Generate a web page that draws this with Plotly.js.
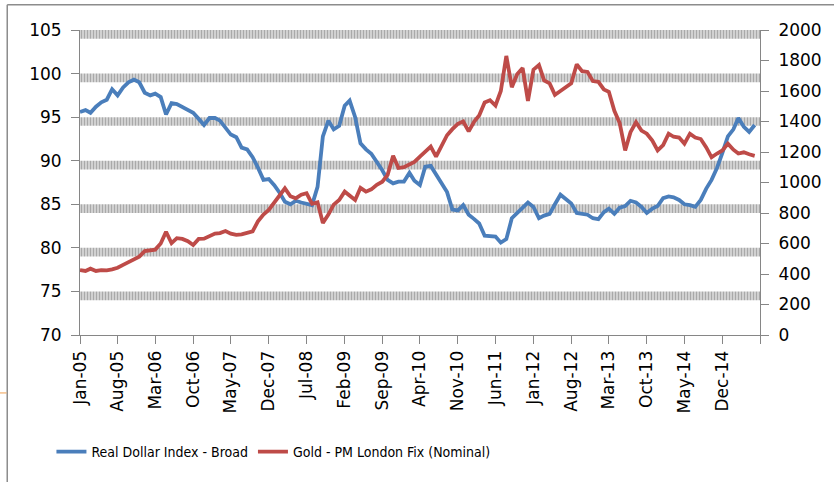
<!DOCTYPE html>
<html>
<head>
<meta charset="utf-8">
<script src="https://cdn.plot.ly/plotly-3.0.1.min.js"></script>
<style>html,body{margin:0;padding:0;background:#fff;}#chart{width:834px;height:482px;}</style>
</head>
<body>
<div id="chart"></div>
<script>
// Monthly series, Jan-05 .. Jun-15
const startMonth = '2005-01';
const dollarIndex = [
  95.6, 95.8, 95.5, 96.2, 96.7, 97.0, 98.2, 97.5, 98.4, 99.0, 99.3, 99.0,
  97.8, 97.5, 97.7, 97.3, 95.3, 96.6, 96.5, 96.2, 95.9, 95.5, 94.8, 94.1,
  94.9, 94.9, 94.6, 93.7, 93.0, 92.7, 91.5, 91.3, 90.4, 89.2, 87.8, 87.9,
  87.2, 86.3, 85.3, 85.0, 85.4, 85.2, 85.0, 84.9, 87.0, 92.8, 94.6, 93.6,
  94.0, 96.3, 96.9, 95.0, 92.0, 91.3, 90.8, 89.9, 88.9, 87.8, 87.4, 87.6,
  87.6, 88.6, 87.7, 87.2, 89.3, 89.4, 88.4, 87.5, 86.4, 84.4, 84.3, 84.9,
  83.8, 83.3, 82.8, 81.4, 81.3, 81.3, 80.6, 81.0, 83.4, 84.0, 84.6, 85.2,
  84.7, 83.4, 83.7, 83.9, 85.0, 86.1, 85.6, 85.1, 84.0, 83.9, 83.8, 83.4,
  83.3, 84.1, 84.5, 83.9, 84.6, 84.8, 85.4, 85.2, 84.7, 84.0, 84.5, 84.8,
  85.7, 85.9, 85.8, 85.5, 85.0, 84.9, 84.7, 85.5, 86.8, 87.8, 89.2, 90.9,
  92.8, 93.6, 94.9, 93.9, 93.3, 94.1
];
const goldFix = [
  426, 420, 435, 420, 425, 424, 430, 441, 460, 478, 495, 514,
  550, 555, 560, 600, 677, 602, 635, 630, 615, 590, 630, 632,
  650, 665, 668, 682, 665, 657, 660, 670, 680, 745, 790, 820,
  870, 910, 962, 910, 896, 920, 930, 860, 870, 735, 790, 855,
  885, 940, 915, 885, 965, 940, 955, 985, 1005, 1050, 1175, 1095,
  1100, 1120, 1135, 1170, 1200, 1235, 1170, 1245, 1310, 1350, 1385, 1400,
  1335, 1400, 1440, 1525, 1540, 1505, 1600, 1830, 1625, 1710, 1750, 1535,
  1740, 1770, 1670, 1650, 1575, 1600, 1625, 1650, 1775, 1730, 1725, 1665,
  1660, 1610, 1595, 1470, 1390, 1210, 1330, 1395, 1340, 1320, 1275, 1210,
  1245, 1320, 1300, 1295, 1255, 1320, 1295, 1285, 1230, 1165, 1190, 1210,
  1255, 1215, 1190, 1198, 1185, 1175
];
const tickDates = ['2005-01-01','2005-08-01','2006-03-01','2006-10-01','2007-05-01','2007-12-01',
  '2008-07-01','2009-02-01','2009-09-01','2010-04-01','2010-11-01','2011-06-01','2012-01-01',
  '2012-08-01','2013-03-01','2013-10-01','2014-05-01','2014-12-01','2015-07-01'];
const tickLabels = ['Jan-05','Aug-05','Mar-06','Oct-06','May-07','Dec-07','Jul-08','Feb-09',
  'Sep-09','Apr-10','Nov-10','Jun-11','Jan-12','Aug-12','Mar-13','Oct-13','May-14','Dec-14',''];
const gridLevels = [105, 100, 95, 90, 85, 80, 75];
const seriesNames = ['Real Dollar Index - Broad', 'Gold - PM London Fix (Nominal)'];

const xStart = '2005-01-01', xEnd = '2015-07-01';
const months = dollarIndex.map((_, i) => {
  const y = 2005 + Math.floor(i / 12), m = (i % 12) + 1;
  return y + '-' + String(m).padStart(2, '0') + '-01';
});
const spanMs = Date.parse(xEnd) - Date.parse(xStart);

const bands = {
  type: 'bar', orientation: 'h',
  y: gridLevels.map(v => v - 0.5),
  x: gridLevels.map(() => spanMs),
  base: gridLevels.map(() => xStart),
  width: 1,
  marker: { color: '#dadada', line: { width: 0 },
    pattern: { shape: '|', size: 3, solidity: 0.5, fgcolor: '#a9a9a9', bgcolor: '#dedede' } },
  xaxis: 'x', yaxis: 'y', showlegend: false, hoverinfo: 'skip'
};
const blue = {
  type: 'scatter', mode: 'lines', name: seriesNames[0],
  x: months, y: dollarIndex, xaxis: 'x', yaxis: 'y',
  line: { color: '#4A7EBB', width: 3.8 }
};
const red = {
  type: 'scatter', mode: 'lines', name: seriesNames[1],
  x: months, y: goldFix, xaxis: 'x', yaxis: 'y2',
  line: { color: '#BE4B48', width: 3.8 }
};

const axisGray = '#868686';
const tickFont = { family: 'DejaVu Sans, Verdana, sans-serif', size: 17, color: '#000' };
const layout = {
  width: 834, height: 482, autosize: false,
  margin: { l: 80, r: 74, t: 30, b: 147, pad: 0 },
  paper_bgcolor: '#fff', plot_bgcolor: '#fff',
  showlegend: true,
  legend: {
    orientation: 'h', x: -0.042, xanchor: 'left', y: -0.384, yanchor: 'middle',
    font: { family: 'Liberation Sans Narrow, DejaVu Sans Condensed, Liberation Sans, sans-serif', size: 14, color: '#000' },
    bgcolor: 'rgba(0,0,0,0)', itemwidth: 30, traceorder: 'normal'
  },
  xaxis: {
    type: 'date', range: [xStart, xEnd],
    tickmode: 'array', tickvals: tickDates, ticktext: tickLabels,
    tickangle: -90, tickfont: tickFont,
    ticks: 'outside', ticklen: 8, tickcolor: axisGray, tickwidth: 1,
    showline: true, linecolor: axisGray, linewidth: 1,
    showgrid: false, zeroline: false, fixedrange: true
  },
  yaxis: {
    range: [70, 105], dtick: 5, tick0: 70,
    tickfont: tickFont, ticks: 'outside', ticklen: 8, tickcolor: axisGray,
    ticklabelstandoff: 6,
    showline: true, linecolor: axisGray, linewidth: 1,
    showgrid: false, zeroline: false, fixedrange: true
  },
  yaxis2: {
    overlaying: 'y', side: 'right', range: [0, 2000], dtick: 200, tick0: 0,
    tickfont: tickFont, ticks: 'outside', ticklen: 8, tickcolor: axisGray,
    ticklabelstandoff: 6,
    showline: true, linecolor: axisGray, linewidth: 1,
    showgrid: false, zeroline: false, fixedrange: true
  },
  shapes: [
    { type: 'line', xref: 'paper', yref: 'paper', x0: -0.107, x1: 1.12, y0: 1.083, y1: 1.083,
      line: { color: '#8c8c8c', width: 1.5 } },
    { type: 'line', xref: 'paper', yref: 'paper', x0: -0.107, x1: -0.107, y0: 1.083, y1: -0.5,
      line: { color: '#8c8c8c', width: 1.5 } },
    { type: 'line', xref: 'paper', yref: 'paper', x0: -0.12, x1: -0.108, y0: -0.19, y1: -0.19,
      line: { color: '#f0a050', width: 1 } }
  ]
};

Plotly.newPlot('chart', [bands, blue, red], layout, { displayModeBar: false, staticPlot: true });
</script>
</body>
</html>
